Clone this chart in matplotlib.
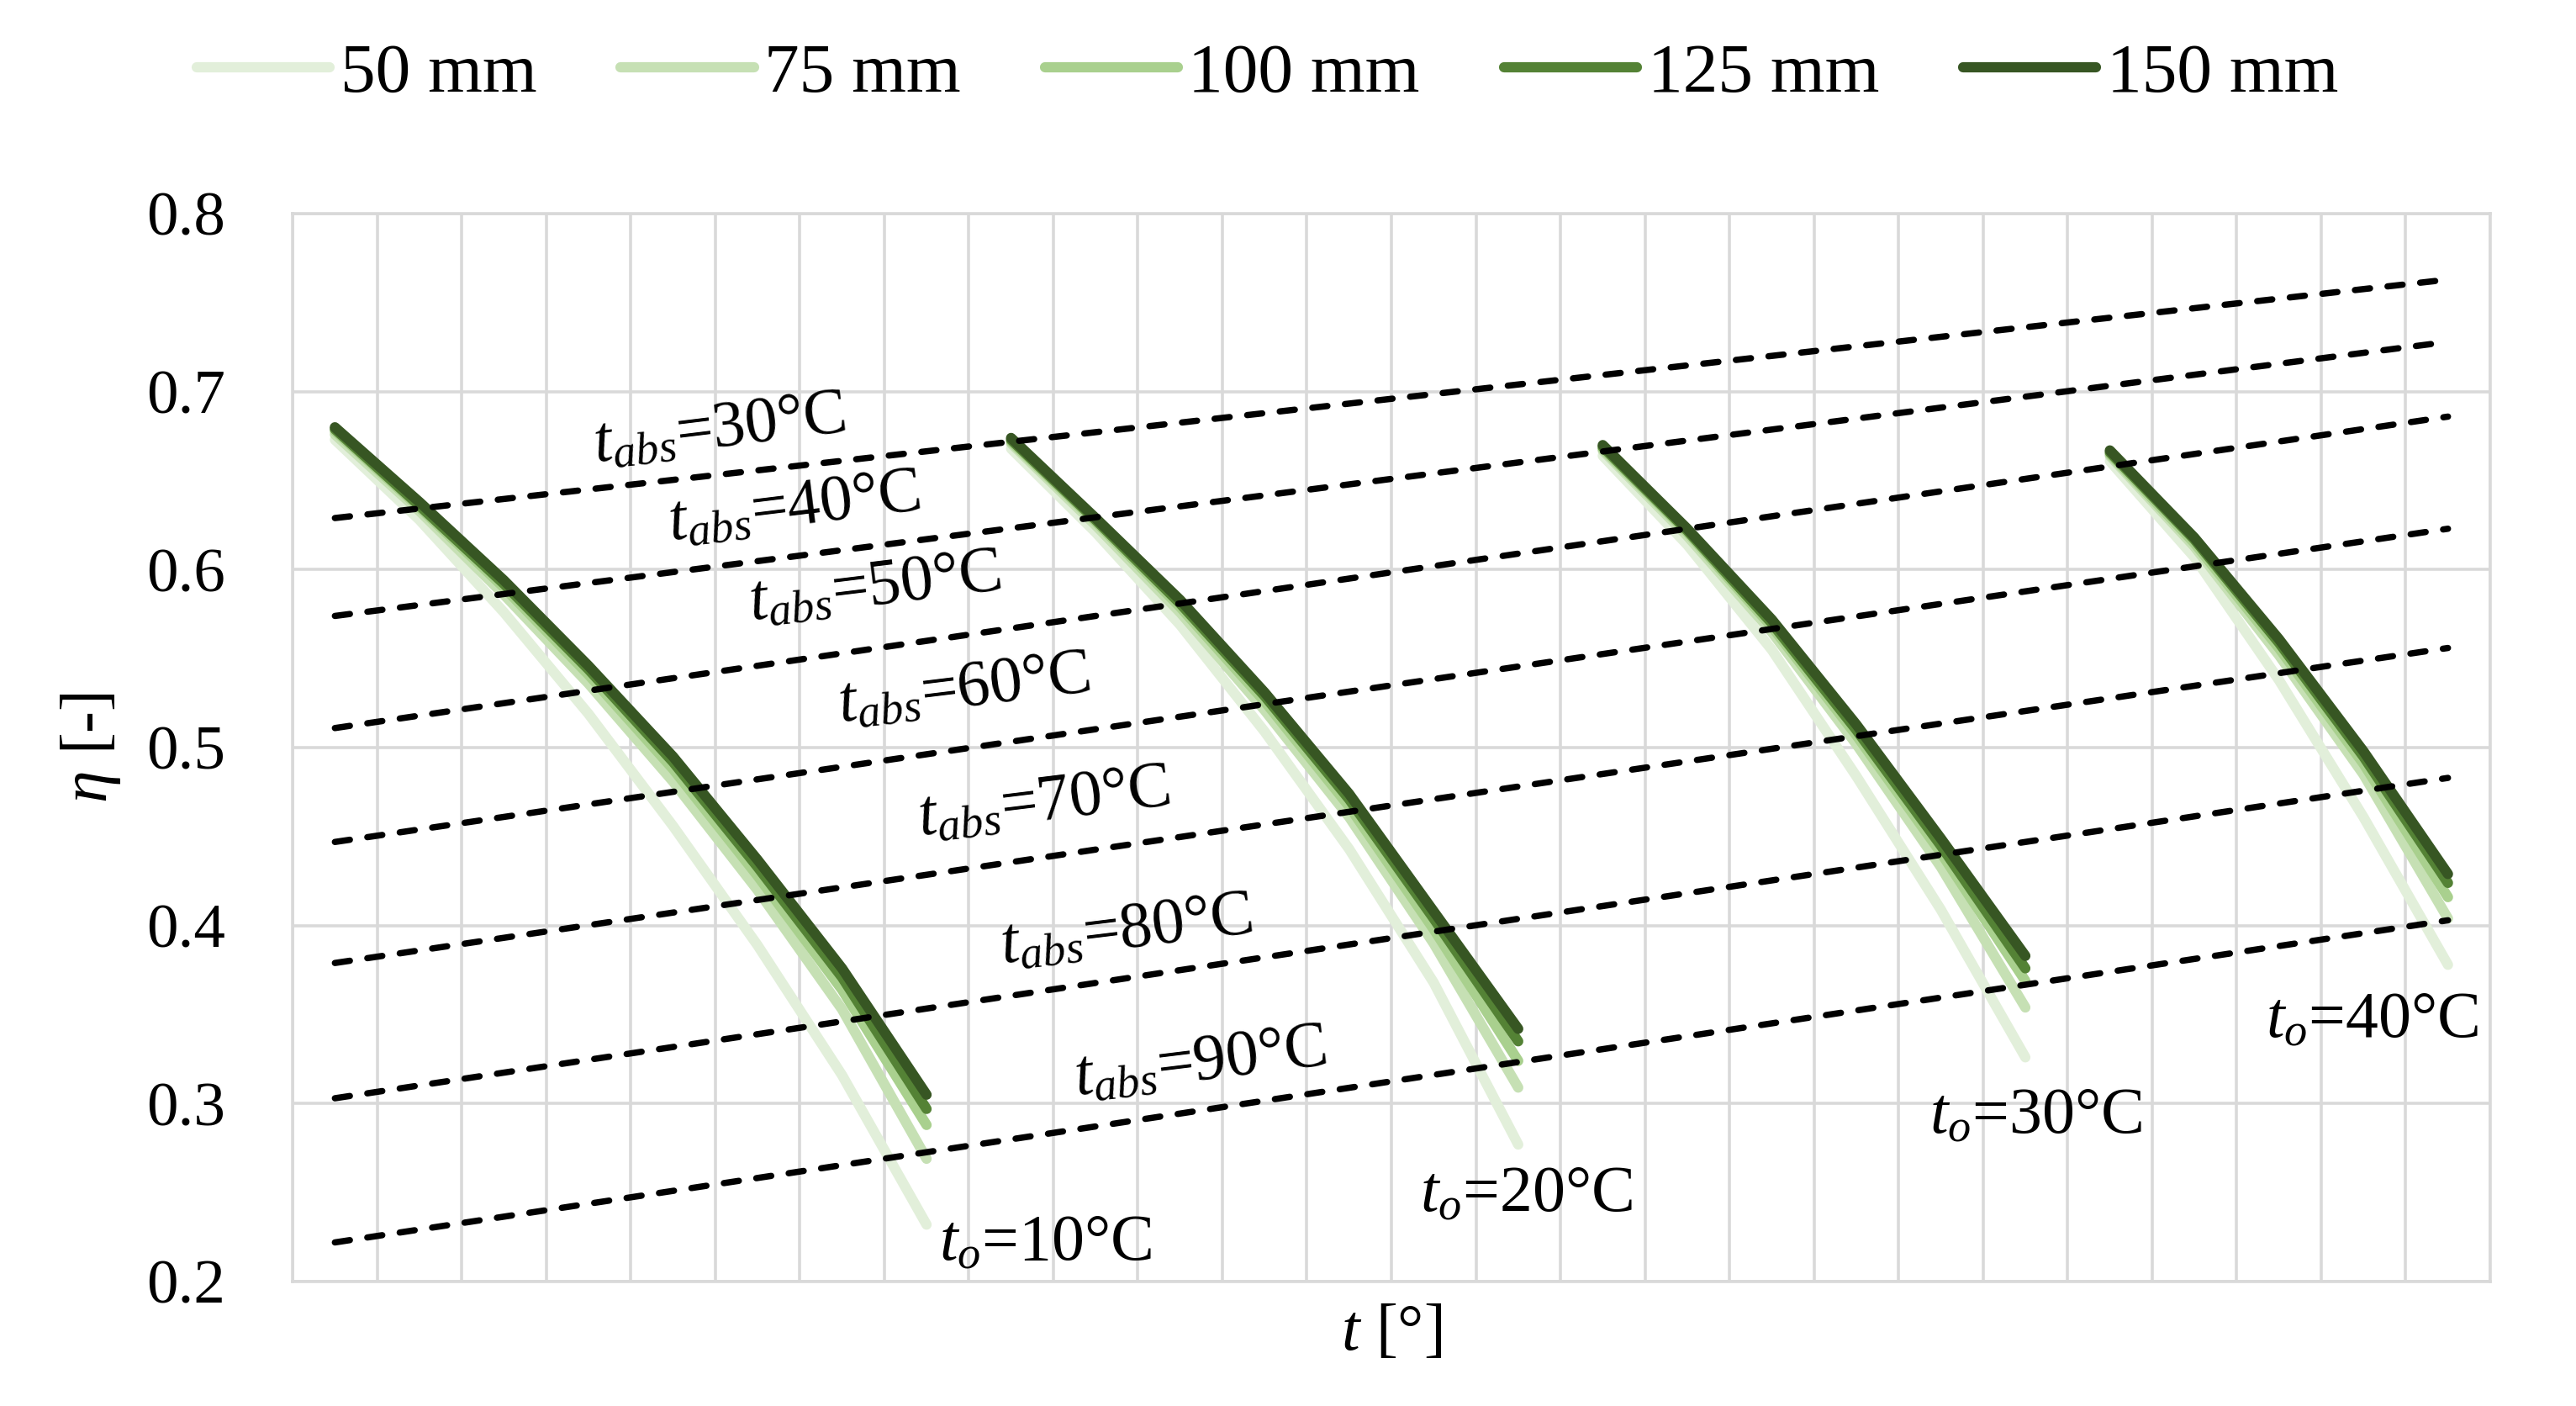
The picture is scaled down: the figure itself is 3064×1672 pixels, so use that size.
import numpy as np
import matplotlib
matplotlib.use("Agg")
import matplotlib.pyplot as plt

plt.rcParams['font.family'] = ['Liberation Serif', 'DejaVu Serif']
plt.rcParams['mathtext.fontset'] = 'custom'
plt.rcParams['mathtext.rm'] = 'Liberation Serif'
plt.rcParams['mathtext.it'] = 'Liberation Serif:italic'

# Data (x = category index 0..25, no tick labels)
thickness = ['50 mm', '75 mm', '100 mm', '125 mm', '150 mm']
colors = ['#E2EFDA', '#C6E0B4', '#A9D08E', '#548235', '#375623']

# each t_o curve covers a block of categories
blocks = [(0, 8), (8, 15), (15, 21), (21, 26)]

eta_50 = [0.673, 0.628, 0.576, 0.519, 0.456, 0.389, 0.316, 0.232,
          0.668, 0.621, 0.569, 0.509, 0.443, 0.368, 0.277,
          0.664, 0.614, 0.555, 0.484, 0.409, 0.326,
          0.661, 0.607, 0.538, 0.461, 0.378]
eta_75 = [0.676, 0.633, 0.586, 0.536, 0.481, 0.420, 0.353, 0.269,
          0.671, 0.625, 0.576, 0.521, 0.461, 0.390, 0.309,
          0.667, 0.619, 0.565, 0.502, 0.433, 0.354,
          0.664, 0.613, 0.552, 0.485, 0.404]
eta_100 = [0.678, 0.635, 0.590, 0.541, 0.488, 0.428, 0.364, 0.288,
           0.672, 0.627, 0.579, 0.526, 0.467, 0.398, 0.324,
           0.668, 0.621, 0.568, 0.507, 0.441, 0.369,
           0.665, 0.615, 0.556, 0.491, 0.416]
eta_125 = [0.679, 0.636, 0.592, 0.544, 0.492, 0.433, 0.371, 0.297,
           0.673, 0.628, 0.581, 0.529, 0.471, 0.404, 0.335,
           0.669, 0.622, 0.570, 0.510, 0.445, 0.376,
           0.666, 0.617, 0.559, 0.495, 0.424]
eta_150 = [0.680, 0.638, 0.594, 0.546, 0.495, 0.437, 0.376, 0.305,
           0.674, 0.629, 0.583, 0.531, 0.474, 0.408, 0.342,
           0.670, 0.623, 0.572, 0.513, 0.449, 0.383,
           0.667, 0.618, 0.561, 0.498, 0.429]
series = [eta_50, eta_75, eta_100, eta_125, eta_150]

# t_abs dashed lines: value at first and last category
t_abs = [30, 40, 50, 60, 70, 80, 90]
tabs_start = [0.629, 0.574, 0.511, 0.447, 0.379, 0.303, 0.222]
tabs_end = [0.763, 0.728, 0.686, 0.623, 0.556, 0.483, 0.403]
tabs_label_x = [4.55, 5.43, 6.39, 7.44, 8.39, 9.36, 10.24]
tabs_label_y = [0.678, 0.634, 0.589, 0.532, 0.468, 0.396, 0.322]

t_o = [10, 20, 30, 40]
to_label_x = [8.41, 14.1, 20.12, 24.1]
to_label_y = [0.221, 0.248, 0.292, 0.346]

fig = plt.figure(figsize=(15.32, 8.36), dpi=200)
ax = fig.add_axes([0.1136, 0.0885, 0.8531, 0.7595])

x = np.arange(26)
for name, vals, c in zip(thickness, series, colors):
    vals = np.array(vals)
    for k, (a, b) in enumerate(blocks):
        ax.plot(x[a:b], vals[a:b], color=c, lw=4.4, solid_capstyle='round',
                solid_joinstyle='round', label=name if k == 0 else None, zorder=3)

for y0, y1 in zip(tabs_start, tabs_end):
    ax.plot([0, 25], [y0, y1], color='black', lw=2.7, dashes=(2.4, 2.8),
            dash_capstyle='round', zorder=4)

for T, lx, ly in zip(t_abs, tabs_label_x, tabs_label_y):
    ax.text(lx, ly, r'$t_{abs}$=%d°C' % T, fontsize=28, rotation=7,
            ha='center', va='center', rotation_mode='anchor', zorder=5)

for T, lx, ly in zip(t_o, to_label_x, to_label_y):
    ax.text(lx, ly, r'$t_o$=%d°C' % T, fontsize=28, ha='center', va='center', zorder=5)

ax.set_xlim(-0.5, 25.5)
ax.set_ylim(0.2, 0.8)
ax.set_xticks(np.arange(-0.5, 26, 1))
ax.set_xticklabels([])
ax.set_yticks(np.arange(0.2, 0.81, 0.1))
ax.set_yticklabels(['%.1f' % v for v in np.arange(0.2, 0.81, 0.1)])
ax.tick_params(length=0, labelsize=27)
ax.tick_params(axis='y', pad=29)
ax.grid(True, color='#D9D9D9', lw=1.3)
ax.set_axisbelow(True)
for s in ax.spines.values():
    s.set_color('#D9D9D9')
    s.set_linewidth(1.3)

ax.set_xlabel(r'$t$ [°]', fontsize=28, labelpad=6)
ax.set_ylabel(r'$\eta$ [-]', fontsize=28, labelpad=10)

fig.legend(loc='center', bbox_to_anchor=(0.492, 0.947), ncol=5, frameon=False,
           fontsize=30, handlelength=1.9, handletextpad=0.15, columnspacing=1.2)

fig.savefig('out.png', dpi=200)
